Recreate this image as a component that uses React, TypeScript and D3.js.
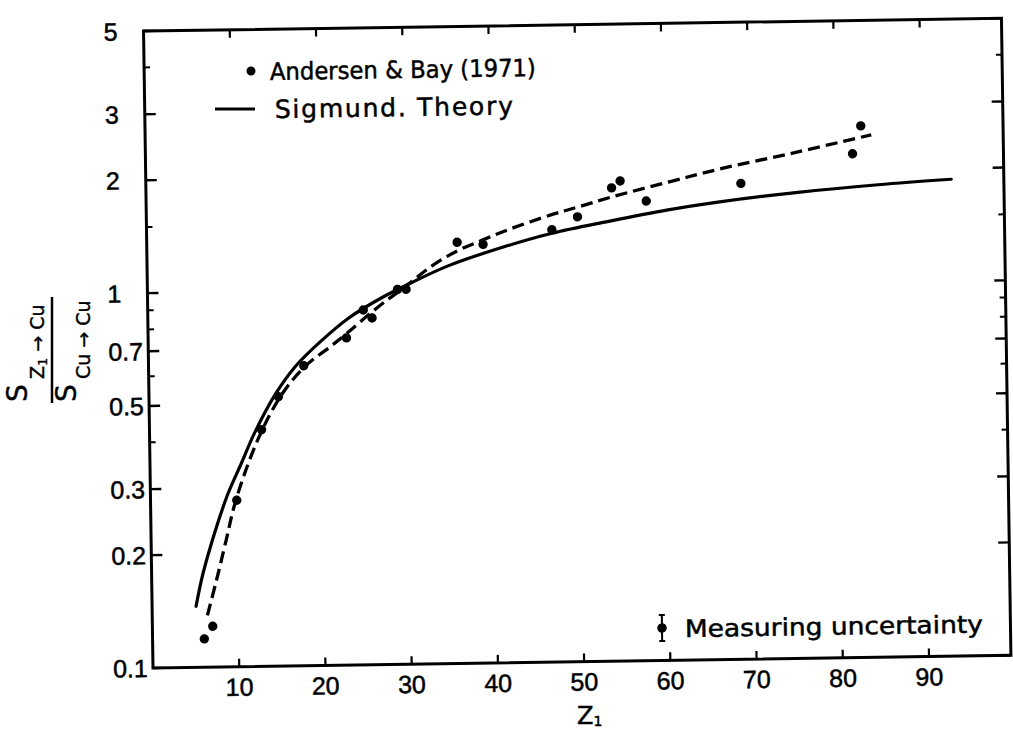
import React from "react";
import * as d3 from "d3";

const W = 1013;
const H = 731;

// Andersen & Bay (1971) measurements: Z1 and stopping ratio
const dataZ = [6, 7, 10, 13, 15, 18, 23, 25, 26, 29, 30, 36, 39, 47, 50, 54, 55, 58, 69, 82, 83];
const dataV = [0.119, 0.1285, 0.278, 0.428, 0.523, 0.631, 0.746, 0.884, 0.841, 1.0, 1.0, 1.328, 1.308, 1.423, 1.536, 1.829, 1.907, 1.682, 1.858, 2.206, 2.617];

// Sigmund theory (solid)
const sigZ = [5.1, 5.8, 6.6, 7.7, 9.0, 10.5, 12.3, 14.7, 17.0, 20.1, 23.3, 27.1, 30.6, 34.9, 40.6, 46.9, 53.6, 60.5, 66.3, 75.6, 84.9, 93.4];
const sigV = [0.1455, 0.172, 0.2, 0.24, 0.29, 0.345, 0.425, 0.533, 0.628, 0.735, 0.843, 0.95, 1.04, 1.15, 1.27, 1.39, 1.49, 1.59, 1.66, 1.75, 1.82, 1.87];

// Fit through the data (dashed)
const fitZ = [6.4, 7.5, 8.7, 9.9, 12.6, 15.4, 18.2, 21.2, 23.2, 25.6, 27.9, 29.5, 33, 36, 39, 42, 47, 50, 54, 60.6, 66.4, 75.3, 84.2];
const fitV = [0.1375, 0.17, 0.2175, 0.278, 0.405, 0.53, 0.63, 0.71, 0.772, 0.858, 0.942, 1.0, 1.15, 1.26, 1.345, 1.43, 1.56, 1.63, 1.73, 1.886, 2.03, 2.234, 2.474];

const xTicks = [10, 20, 30, 40, 50, 60, 70, 80, 90];
const xTickLabels = ["10", "20", "30", "40", "50", "60", "70", "80", "90"];
const yTicksMajor = [0.1, 0.2, 0.3, 0.5, 0.7, 1, 2, 3, 5];
const yTickLabels = ["0.1", "0.2", "0.3", "0.5", "0.7", "1", "2", "3", "5"];
const yTicksMinor = [0.4, 0.6, 0.8, 0.9, 1.5, 4];

const legendData = "Andersen & Bay (1971)";
const legendTheory = "Sigmund. Theory";
const legendUnc = "Measuring uncertainty";

// the scanned figure is slightly rotated
const ANG = 0.85;
const OX = 153;
const OY = 668;
const rad = (ANG * Math.PI) / 180;
function loc(sx: number, sy: number): [number, number] {
  const dx = sx - OX;
  const dy = sy - OY;
  return [OX + dx * Math.cos(rad) - dy * Math.sin(rad), OY + dx * Math.sin(rad) + dy * Math.cos(rad)];
}

const x = d3.scaleLinear().domain([0, 99.5]).range([153, 1011]);
const y = d3.scaleLog().domain([0.1, 5]).range([668, 31]);

const sigLine = d3
  .line<number>()
  .x((_, i) => x(sigZ[i]))
  .y((d) => y(d))
  .curve(d3.curveCatmullRom.alpha(0.5));
const fitLine = d3
  .line<number>()
  .x((_, i) => x(fitZ[i]))
  .y((d) => y(d))
  .curve(d3.curveCatmullRom.alpha(0.5));

const TICKFONT = "'Liberation Sans', Arial, sans-serif";
const LEGFONT = "'DejaVu Sans', sans-serif";

export default function App() {
  const [x0, x1] = x.range();
  const [yb, yt] = y.range();
  const dot = loc(251, 71);
  const t1 = loc(270, 80);
  const l1a = loc(215, 109);
  const l1b = loc(255, 109);
  const t2 = loc(275, 118);
  const eb = loc(662, 628);
  const t3 = loc(685, 637);

  return (
    <svg
      width={W}
      height={H}
      style={{ position: "absolute", left: 0, top: 0, background: "#fff" }}
    >
      <rect x={0} y={0} width={W} height={H} fill="#fff" />
      <g transform={`rotate(${-ANG} ${OX} ${OY})`}>
        {/* frame */}
        <rect x={x0} y={yt} width={x1 - x0} height={yb - yt} fill="none" stroke="#000" strokeWidth={3} />
        {/* x ticks bottom and top */}
        {xTicks.map((t) => (
          <g key={"xt" + t}>
            <line x1={x(t)} x2={x(t)} y1={yb} y2={yb - 8} stroke="#000" strokeWidth={2.2} />
            <line x1={x(t)} x2={x(t)} y1={yt} y2={yt + 8} stroke="#000" strokeWidth={2.2} />
          </g>
        ))}
        {xTicks.map((t, i) => (
          <text key={"xl" + t} x={x(t)} y={yb + 29} textAnchor="middle" fontFamily={TICKFONT} fontSize={25} fill="#000" stroke="#000" strokeWidth={0.5}>
            {xTickLabels[i]}
          </text>
        ))}
        {/* y ticks left and right */}
        {yTicksMajor.map((t) => (
          <g key={"ym" + t}>
            <line x1={x0} x2={x0 + 11} y1={y(t)} y2={y(t)} stroke="#000" strokeWidth={2.4} />
            <line x1={x1} x2={x1 - 11} y1={y(t)} y2={y(t)} stroke="#000" strokeWidth={2.4} />
          </g>
        ))}
        {yTicksMinor.map((t) => (
          <g key={"yn" + t}>
            <line x1={x0} x2={x0 + 6} y1={y(t)} y2={y(t)} stroke="#000" strokeWidth={2} />
            <line x1={x1} x2={x1 - 6} y1={y(t)} y2={y(t)} stroke="#000" strokeWidth={2} />
          </g>
        ))}
        {yTicksMajor.map((t, i) => (
          <text key={"yl" + t} x={113} y={y(t) + 9} textAnchor="start" fontFamily={TICKFONT} fontSize={25} fill="#000" stroke="#000" strokeWidth={0.5}>
            {yTickLabels[i]}
          </text>
        ))}

        {/* curves */}
        <path d={sigLine(sigV) || ""} fill="none" stroke="#000" strokeWidth={3.2} strokeLinecap="round" />
        <path d={fitLine(fitV) || ""} fill="none" stroke="#000" strokeWidth={3.3} strokeDasharray="12 6" />

        {/* data points */}
        {dataV.map((v, i) => (
          <circle key={"p" + i} cx={x(dataZ[i])} cy={y(v)} r={4.7} fill="#000" />
        ))}

        {/* legend */}
        <circle cx={dot[0]} cy={dot[1]} r={4.5} fill="#000" />
        <text x={t1[0]} y={t1[1]} fontFamily={LEGFONT} fontSize={24} fill="#000" stroke="#000" strokeWidth={0.5} textLength={266} lengthAdjust="spacingAndGlyphs">
          {legendData}
        </text>
        <line x1={l1a[0]} y1={l1a[1]} x2={l1b[0]} y2={l1b[1]} stroke="#000" strokeWidth={3} />
        <text x={t2[0]} y={t2[1]} fontFamily={LEGFONT} fontSize={25} fill="#000" stroke="#000" strokeWidth={0.5} textLength={238} lengthAdjust="spacing">
          {legendTheory}
        </text>

        {/* measuring uncertainty */}
        <line x1={eb[0]} x2={eb[0]} y1={eb[1] - 13} y2={eb[1] + 13} stroke="#000" strokeWidth={2} />
        <line x1={eb[0] - 3} x2={eb[0] + 3} y1={eb[1] - 13} y2={eb[1] - 13} stroke="#000" strokeWidth={2} />
        <line x1={eb[0] - 3} x2={eb[0] + 3} y1={eb[1] + 13} y2={eb[1] + 13} stroke="#000" strokeWidth={2} />
        <circle cx={eb[0]} cy={eb[1]} r={4.8} fill="#000" />
        <text x={t3[0]} y={t3[1]} fontFamily={LEGFONT} fontSize={24} fill="#000" stroke="#000" strokeWidth={0.5} textLength={298} lengthAdjust="spacingAndGlyphs">
          {legendUnc}
        </text>
      </g>

      {/* x axis title */}
      <text x={577} y={724} fontFamily={LEGFONT} fontSize={24} fill="#000" stroke="#000" strokeWidth={0.5}>
        Z<tspan fontSize={14} dy={2}>1</tspan>
      </text>

      {/* y axis title (fraction) */}
      <g transform="translate(52,350) rotate(-90)" fontFamily={LEGFONT} fill="#000" stroke="#000" strokeWidth={0.4}>
        <line x1={-53} x2={53} y1={0} y2={0} stroke="#000" strokeWidth={2.5} />
        <text x={-52} y={-25} fontSize={28}>S</text>
        <text x={-29} y={-8} fontSize={19}>
          Z<tspan fontSize={13} dy={3}>1</tspan>
          <tspan dy={-3}> → Cu</tspan>
        </text>
        <text x={-52} y={24} fontSize={28}>S</text>
        <text x={-29} y={38} fontSize={19}>Cu → Cu</text>
      </g>
    </svg>
  );
}
